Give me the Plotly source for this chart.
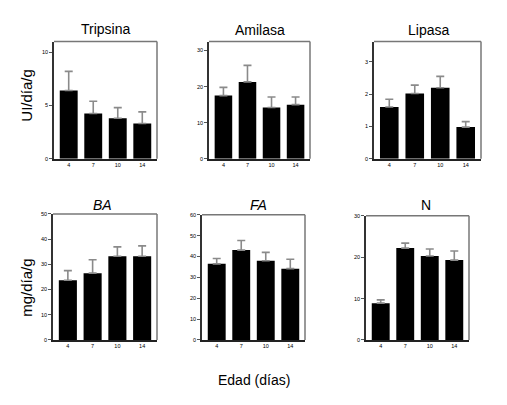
import plotly.graph_objects as go

# Edad (días)
edad = ["4", "7", "10", "14"]

# enzimas (UI/día/g)
tripsina = [6.4, 4.25, 3.8, 3.3]
tripsina_err = [1.8, 1.15, 1.0, 1.1]
amilasa = [17.5, 21.3, 14.2, 15.0]
amilasa_err = [2.3, 4.6, 2.9, 2.1]
lipasa = [1.6, 2.02, 2.2, 0.98]
lipasa_err = [0.24, 0.26, 0.35, 0.17]

# mg/día/g
ba = [23.7, 26.5, 33.2, 33.2]
ba_err = [3.8, 5.3, 3.7, 4.1]
fa = [36.5, 43.1, 38.0, 34.2]
fa_err = [2.6, 4.6, 4.0, 4.5]
n = [8.9, 22.2, 20.3, 19.3]
n_err = [0.8, 1.2, 1.7, 2.2]

FONT = "Liberation Sans, Arial, sans-serif"
OFF = 8  # page body margin
W, H = 507 - OFF, 405 - OFF


def px(x):
    return (x - OFF) / W


def py(y):
    return 1 - (y - OFF) / H


# panel boxes in window pixels: (x0, x1, y0, y1), title, title pos, y range, y ticks
panels = [
    (tripsina, tripsina_err, (54, 157, 39, 158), "Tripsina", (105, 26), 11, [0, 5, 10]),
    (amilasa, amilasa_err, (209, 310, 39, 158), "Amilasa", (260, 27), 32.5, [0, 10, 20, 30]),
    (lipasa, lipasa_err, (374, 481, 39, 158), "Lipasa", (428, 27), 3.63, [0, 1, 2, 3]),
    (ba, ba_err, (53, 157, 214, 342), "<i>BA</i>", (102, 205), 50, [0, 10, 20, 30, 40, 50]),
    (fa, fa_err, (202, 305, 215, 342), "<i>FA</i>", (259, 205), 60, [0, 10, 20, 30, 40, 50, 60]),
    (n, n_err, (366, 469, 216, 342), "N", (426, 205), 30, [0, 10, 20, 30]),
]

fig = go.Figure()
shapes = []
annotations = []

for i, (vals, errs, box, title, tpos, ymax, yticks) in enumerate(panels):
    k = "" if i == 0 else str(i + 1)
    x0, x1, y0, y1 = box
    fig.add_trace(go.Bar(
        x=edad, y=vals,
        xaxis="x" + k, yaxis="y" + k,
        width=0.73,
        marker=dict(color="black", line=dict(width=0)),
        error_y=dict(type="data", array=errs, arrayminus=[0] * len(errs),
                     symmetric=False, color="#8a8a8a", thickness=1.6, width=4),
        showlegend=False,
        hoverinfo="x+y",
    ))
    fig.layout["xaxis" + k] = dict(
        domain=[px(x0), px(x1)], anchor="y" + k, type="category",
        range=[-0.6, 3.6], showline=True, linecolor="#222", linewidth=1.5,
        ticks="", showgrid=False, zeroline=False,
        tickfont=dict(family=FONT, size=5.5, color="black"),
        fixedrange=True,
    )
    fig.layout["yaxis" + k] = dict(
        domain=[py(y1), py(y0)], anchor="x" + k,
        range=[0, ymax], showline=True, linecolor="#333", linewidth=1.5,
        ticks="outside", ticklen=3, tickcolor="#555", tickwidth=1,
        tickvals=yticks, showgrid=False, zeroline=False,
        tickfont=dict(family=FONT, size=5.5, color="black"),
        fixedrange=True,
    )
    # top and right frame lines (lighter)
    shapes.append(dict(type="line", xref="x" + k + " domain", yref="y" + k + " domain",
                       x0=0, x1=1, y0=1, y1=1, line=dict(color="#777", width=1.5)))
    shapes.append(dict(type="line", xref="x" + k + " domain", yref="y" + k + " domain",
                       x0=1, x1=1, y0=0, y1=1, line=dict(color="#777", width=1.5)))
    annotations.append(dict(text=title, x=px(tpos[0]), y=py(tpos[1]),
                            xref="paper", yref="paper", showarrow=False,
                            xanchor="center", yanchor="middle",
                            font=dict(family=FONT, size=14, color="black")))

annotations.append(dict(text="UI/día/g", x=px(27), y=py(94), xref="paper", yref="paper",
                        showarrow=False, textangle=-90, xanchor="center", yanchor="middle",
                        font=dict(family=FONT, size=15, color="black")))
annotations.append(dict(text="mg/día/g", x=px(27), y=py(289), xref="paper", yref="paper",
                        showarrow=False, textangle=-90, xanchor="center", yanchor="middle",
                        font=dict(family=FONT, size=15, color="black")))
annotations.append(dict(text="Edad (días)", x=px(254), y=py(383), xref="paper", yref="paper",
                        showarrow=False, xanchor="center", yanchor="middle",
                        font=dict(family=FONT, size=14, color="black")))

fig.update_layout(
    width=W, height=H,
    margin=dict(l=0, r=0, t=0, b=0),
    paper_bgcolor="white", plot_bgcolor="white",
    bargap=0.27,
    shapes=shapes, annotations=annotations,
    font=dict(family=FONT),
)

fig.write_html("out.html")
